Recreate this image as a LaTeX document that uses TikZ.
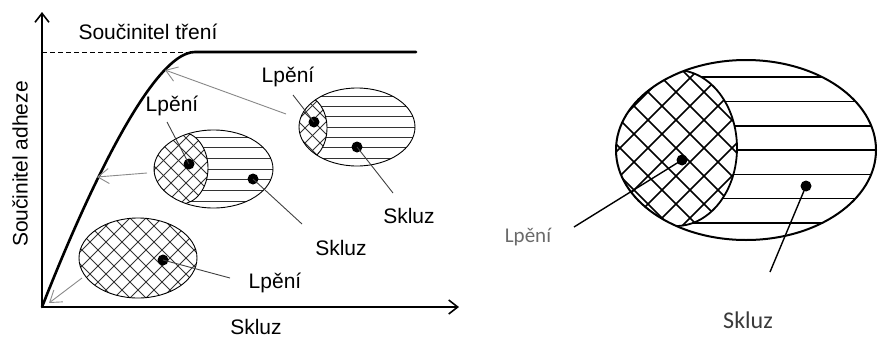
\documentclass[tikz,border=0pt]{standalone}
\usepackage{fontspec}
\setmainfont{Liberation Sans}
\newfontfamily\calib{Carlito}
\usetikzlibrary{arrows.meta,calc}
\definecolor{arrgray}{HTML}{8A8A8A}
\definecolor{lgray}{HTML}{6A6A6A}
\definecolor{sgray}{HTML}{3A3A3A}
\tikzset{
  axis/.style={line width=1.8pt,-{Straight Barb[length=9pt,width=14pt,line width=1.6pt]}},
  pointer/.style={draw=arrgray,line width=0.9pt,-{Straight Barb[length=11pt,width=15pt,line width=0.9pt]}},
  leader/.style={draw=black!75,line width=0.9pt},
  bigleader/.style={draw=black,line width=1.4pt},
  hatchs/.style={draw=black!80,line width=0.8pt},
  hatchb/.style={draw=black,line width=1.6pt},
  dot/.style={circle,fill=black,inner sep=0pt,minimum size=#1},
  lab/.style={font=\fontsize{21}{24}\selectfont,inner sep=0pt},
}
\begin{document}
\begin{tikzpicture}[x=1pt,y=-1pt]
\useasboundingbox (0,0) rectangle (878,343);

% ---------- axes ----------
\coordinate (O) at (42,307);
\coordinate (ytop) at (42,12);
\coordinate (xend) at (459,307);
\draw[axis] (O) -- (ytop);
\draw[axis] (O) -- (xend);

% ---------- curve ----------
\coordinate (knee) at (195,52);
\coordinate (hend) at (416,52);
\draw[line width=0.9pt,dashed,dash pattern=on 5pt off 3pt] (42,52) -- (knee);
\draw[line width=2.6pt,line cap=round] (O) .. controls (80,210) and (150,52) .. (knee) -- (hend);

% ---------- labels ----------
\node[lab] (ftr) at (148,32) {Součinitel tření};
\node[lab,rotate=90] (fad) at (20,164) {Součinitel adheze};
\node[lab] (skx) at (256,327) {Skluz};

% ---------- bottom ellipse (all crosshatch) ----------
\begin{scope}
\clip (138,258) ellipse [x radius=59pt,y radius=40pt];
\foreach \k in {-160,-144,...,160}{
  \draw[hatchs] ({138+\k-90},{258-90}) -- ({138+\k+90},{258+90});
  \draw[hatchs] ({138+\k-90},{258+90}) -- ({138+\k+90},{258-90});
}
\end{scope}
\draw[line width=0.9pt] (138,258) ellipse [x radius=59pt,y radius=40pt];
\node[dot=11pt] (d1) at (163,260) {};
\coordinate (l1) at (230,278);
\draw[leader] (d1.center) -- (l1);
\node[lab] (t1) at (275,283) {Lpění};
\coordinate (a1s) at (82,278);
\coordinate (a1e) at (49,303);
\draw[pointer] (a1s) -- (a1e);

% ---------- middle ellipse ----------
\begin{scope}
\clip (213.5,169) ellipse [x radius=59.5pt,y radius=39pt];
\foreach \k in {-3,...,3}{
  \draw[hatchs] (150,{169+\k*10.7}) -- (280,{169+\k*10.7});
}
\fill[white] (181,168) ellipse [x radius=27pt,y radius=36pt];
\begin{scope}
\clip (181,168) ellipse [x radius=27pt,y radius=36pt];
\foreach \k in {-100,-85,...,100}{
  \draw[hatchs] ({181+\k-60},{168-60}) -- ({181+\k+60},{168+60});
  \draw[hatchs] ({181+\k-60},{168+60}) -- ({181+\k+60},{168-60});
}
\end{scope}
\draw[line width=0.9pt] (181,168) ellipse [x radius=27pt,y radius=36pt];
\end{scope}
\draw[line width=0.9pt] (213.5,169) ellipse [x radius=59.5pt,y radius=39pt];
\node[dot=11pt] (d2a) at (189,164) {};
\node[dot=11pt] (d2b) at (253,179) {};
\coordinate (l2a) at (167,122);
\coordinate (l2b) at (302,224);
\draw[leader] (l2a) -- (d2a.center);
\draw[leader] (d2b.center) -- (l2b);
\node[lab] (t2a) at (172,106) {Lpění};
\node[lab] (t2b) at (341,248) {Skluz};
\coordinate (a2s) at (147,173);
\coordinate (a2e) at (97,177);
\draw[pointer] (a2s) -- (a2e);

% ---------- top ellipse ----------
\begin{scope}
\clip (357,127) ellipse [x radius=58pt,y radius=39pt];
\foreach \k in {-3,...,3}{
  \draw[hatchs] (295,{127+\k*10.3}) -- (420,{127+\k*10.3});
}
\fill[white] (305,128) ellipse [x radius=22pt,y radius=32pt];
\begin{scope}
\clip (305,128) ellipse [x radius=22pt,y radius=32pt];
\foreach \k in {-90,-75,...,90}{
  \draw[hatchs] ({305+\k-50},{128-50}) -- ({305+\k+50},{128+50});
  \draw[hatchs] ({305+\k-50},{128+50}) -- ({305+\k+50},{128-50});
}
\end{scope}
\draw[line width=0.9pt] (305,128) ellipse [x radius=22pt,y radius=32pt];
\end{scope}
\draw[line width=0.9pt] (357,127) ellipse [x radius=58pt,y radius=39pt];
\node[dot=11pt] (d3a) at (314,122) {};
\node[dot=11pt] (d3b) at (357,147) {};
\coordinate (l3a) at (293,95);
\coordinate (l3b) at (393,193);
\draw[leader] (l3a) -- (d3a.center);
\draw[leader] (d3b.center) -- (l3b);
\node[lab] (t3a) at (288,77) {Lpění};
\node[lab] (t3b) at (409,216) {Skluz};
\coordinate (a3s) at (286,114);
\coordinate (a3e) at (165,70);
\draw[pointer] (a3s) -- (a3e);

% ---------- right big ellipse ----------
\begin{scope}
\clip (746,150) ellipse [x radius=130pt,y radius=90pt];
\foreach \k in {-3,...,3}{
  \draw[hatchb] (610,{150+\k*24.3}) -- (880,{150+\k*24.3});
}
\fill[white] (676,148) ellipse [x radius=61pt,y radius=78pt];
\begin{scope}
\clip (676,148) ellipse [x radius=61pt,y radius=78pt];
\foreach \k in {-224,-196,...,224}{
  \draw[hatchb] ({676+\k-110},{148-110}) -- ({676+\k+110},{148+110});
  \draw[hatchb] ({676+\k-110},{148+110}) -- ({676+\k+110},{148-110});
}
\end{scope}
\draw[line width=1.8pt] (676,148) ellipse [x radius=61pt,y radius=78pt];
\end{scope}
\draw[line width=2pt] (746,150) ellipse [x radius=130pt,y radius=90pt];
\node[dot=11pt] (d4a) at (682,160) {};
\node[dot=11pt] (d4b) at (806,186) {};
\coordinate (l4a) at (574,227);
\coordinate (l4b) at (770,272);
\draw[bigleader] (d4a.center) -- (l4a);
\draw[bigleader] (d4b.center) -- (l4b);
\node[inner sep=0pt,text=lgray,font=\calib\fontsize{21}{24}\selectfont] (t4a) at (528,237) {Lpění};
\node[inner sep=0pt,text=sgray,font=\calib\fontsize{24}{28}\selectfont] (t4b) at (748,320) {Skluz};
\end{tikzpicture}
\end{document}
